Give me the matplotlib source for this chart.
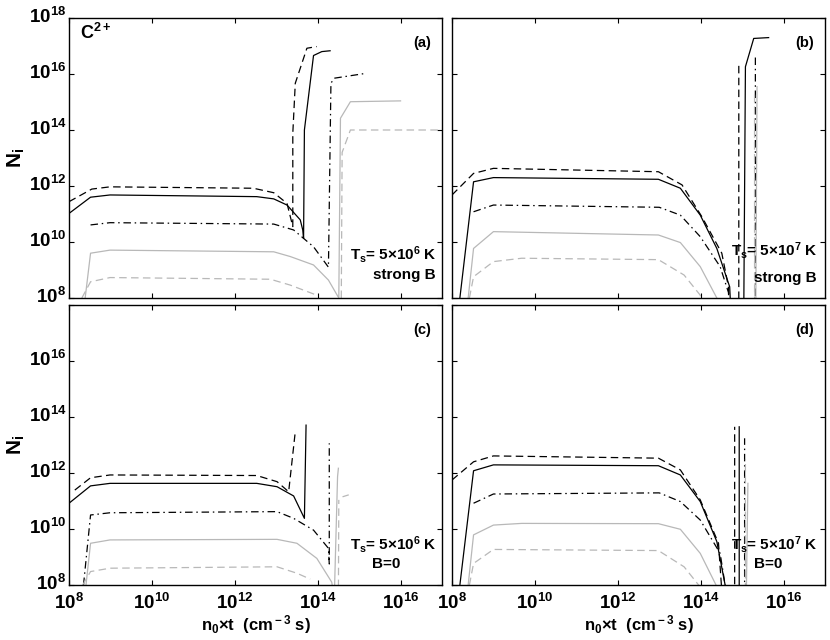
import numpy as np
import matplotlib
matplotlib.use("Agg")
import matplotlib.pyplot as plt
import matplotlib.transforms as mtransforms

plt.rcParams['font.family'] = ['Liberation Sans', 'DejaVu Sans']
plt.rcParams['font.weight'] = 'bold'
plt.rcParams['mathtext.fontset'] = 'custom'
plt.rcParams['mathtext.rm'] = 'Liberation Sans:bold'
plt.rcParams['mathtext.it'] = 'Liberation Sans:bold'
plt.rcParams['mathtext.bf'] = 'Liberation Sans:bold'

# all values are log10 exponents; nan breaks a line
# (a) Ts = 5e6 K, strong B
a_solid_x = [8, 8.52, 8.99, 12.53, 12.94, 13.26, 13.58, 13.64, 13.66, 13.68, 13.90, 14.10, 14.30]
a_solid_y = [11.02, 11.6, 11.68, 11.62, 11.54, 11.32, 10.79, 10.43, 10.13, 14.0, 16.66, 16.80, 16.83]
a_dash_x = [8, 8.55, 8.99, 12.45, 12.94, 13.26, 13.40, 13.40, 13.46, 13.74, 13.98]
a_dash_y = [11.44, 11.89, 11.97, 11.92, 11.76, 11.38, 10.55, 13.88, 15.67, 16.92, 16.98]
a_dd_x = [8.52, 8.99, 12.94, 13.42, 13.90, 14.26, 14.32, 14.40, 15.15]
a_dd_y = [10.61, 10.69, 10.64, 10.43, 9.83, 9.10, 15.67, 15.85, 16.02]
a_gsolid_x = [8.39, 8.52, 8.99, 12.94, 13.34, 13.90, 14.26, 14.51, 14.55, 14.79, 16.0]
a_gsolid_y = [8.0, 9.6, 9.71, 9.65, 9.48, 9.18, 8.64, 8.0, 14.42, 15.01, 15.04]
a_gdash_x = [8.31, 8.52, 8.99, 12.86, 13.34, 13.98, np.nan, 14.57, 14.59, 14.79, 17.0]
a_gdash_y = [8.0, 8.58, 8.73, 8.67, 8.46, 8.1, np.nan, 8.0, 13.2, 14.0, 14.0]

# (b) Ts = 5e7 K, strong B
b_solid_x = [8.19, 8.52, 9.0, 12.98, 13.51, 13.99, 14.39, 14.70, 14.73, 15.04, 15.08, 15.28, 15.64]
b_solid_y = [8.0, 12.15, 12.30, 12.24, 11.92, 10.96, 9.77, 8.4, 7.5, 7.5, 16.26, 17.27, 17.3]
b_dash_x = [8.0, 8.52, 9.0, 12.98, 13.55, 14.03, 14.51, 14.67, 14.70, 14.92, 14.92]
b_dash_y = [11.68, 12.45, 12.63, 12.51, 12.04, 10.9, 9.6, 8.4, 7.5, 7.5, 16.38]
b_dd_x = [8.52, 9.0, 13.0, 13.51, 13.99, 14.47, 14.67, 14.70, 15.32, 15.32]
b_dd_y = [11.08, 11.32, 11.24, 10.96, 10.19, 9.12, 8.2, 7.5, 7.5, 16.68]
b_gsolid_x = [8.39, 8.52, 9.0, 12.98, 13.51, 13.99, 14.39, 14.45, 15.33, 15.36]
b_gsolid_y = [8.0, 9.77, 10.37, 10.25, 9.98, 9.12, 8.0, 7.5, 7.5, 15.55]
b_gdash_x = [8.42, 8.52, 9.0, 9.68, 12.98, 13.6, 13.99, 14.05, 15.30, 15.30]
b_gdash_y = [8.0, 8.76, 9.3, 9.42, 9.37, 8.82, 8.1, 7.5, 7.5, 15.3]

# (c) Ts = 5e6 K, B=0
c_solid_x = [8, 8.52, 8.99, 12.53, 13.02, 13.42, 13.68, 13.72]
c_solid_y = [10.92, 11.54, 11.63, 11.63, 11.51, 11.18, 10.38, 13.71]
c_dash_x = [8.14, 8.52, 8.99, 12.53, 13.02, 13.30, 13.46]
c_dash_y = [11.39, 11.83, 11.93, 11.91, 11.69, 11.33, 13.48]
c_dd_x = [8.35, 8.52, 8.99, 13.02, 13.42, 13.90, 14.26, 14.28, 14.28]
c_dd_y = [8.0, 10.5, 10.58, 10.62, 10.38, 9.96, 9.31, 8.75, 13.06]
c_gsolid_x = [8.41, 8.52, 8.99, 13.02, 13.50, 13.98, 14.34, 14.40, 14.48, 14.50]
c_gsolid_y = [8.0, 9.49, 9.61, 9.63, 9.49, 8.95, 8.1, 7.5, 11.87, 12.17]
c_gdash_x = [8.33, 8.52, 8.99, 13.02, 13.5, 13.82, np.nan, 14.5, 14.51, np.nan, 14.6, 14.75]
c_gdash_y = [8.0, 8.48, 8.6, 8.65, 8.42, 8.21, np.nan, 7.5, 11.04, np.nan, 11.15, 11.22]

# (d) Ts = 5e7 K, B=0
d_solid_x = [8.19, 8.52, 9.0, 12.98, 13.51, 13.99, 14.39, 14.59, 14.62, 14.93, 14.93]
d_solid_y = [8.0, 12.08, 12.29, 12.26, 11.93, 10.98, 9.55, 8.0, 7.5, 7.5, 13.65]
d_dash_x = [8.0, 8.52, 9.0, 12.98, 13.51, 13.99, 14.43, 14.5, 14.55, 14.82, 14.82]
d_dash_y = [11.75, 12.4, 12.61, 12.53, 12.11, 11.04, 9.49, 8.0, 7.5, 7.5, 13.65]
d_dd_x = [8.52, 9.0, 13.0, 13.51, 13.99, 14.47, 14.59, 14.62, 15.06, 15.06]
d_dd_y = [10.92, 11.25, 11.29, 10.98, 10.32, 9.13, 8.0, 7.5, 7.5, 13.24]
d_gsolid_x = [8.39, 8.52, 9.0, 9.68, 12.98, 13.51, 13.99, 14.37, 14.42, 15.10, 15.14]
d_gsolid_y = [8.0, 9.79, 10.14, 10.2, 10.19, 9.99, 9.13, 8.0, 7.5, 7.5, 11.63]
d_gdash_x = [8.42, 8.52, 9.0, 12.98, 13.6, 13.95, 14.0, 15.08, 15.08]
d_gdash_y = [8.0, 8.77, 9.27, 9.23, 8.65, 8.0, 7.5, 7.5, 12.5]

panel_tags = ['(a)', '(b)', '(c)', '(d)']
temp_labels = [r'T$_{\rm s}$= 5$\times$10$^{6}$ K', r'T$_{\rm s}$= 5$\times$10$^{7}$ K',
               r'T$_{\rm s}$= 5$\times$10$^{6}$ K', r'T$_{\rm s}$= 5$\times$10$^{7}$ K']
field_labels = ['strong B', 'strong B', 'B=0', 'B=0']
x_exps = [8, 10, 12, 14, 16]
y_exps = [8, 10, 12, 14, 16, 18]

GRAY = '#b8b8b8'
DASH = (0, (6, 3.5))
DASHDOT = (0, (6, 3, 1.2, 3))

panels = [
    [(a_solid_x, a_solid_y, 'k', '-'), (a_dash_x, a_dash_y, 'k', DASH), (a_dd_x, a_dd_y, 'k', DASHDOT),
     (a_gsolid_x, a_gsolid_y, GRAY, '-'), (a_gdash_x, a_gdash_y, GRAY, DASH)],
    [(b_solid_x, b_solid_y, 'k', '-'), (b_dash_x, b_dash_y, 'k', DASH), (b_dd_x, b_dd_y, 'k', DASHDOT),
     (b_gsolid_x, b_gsolid_y, GRAY, '-'), (b_gdash_x, b_gdash_y, GRAY, DASH)],
    [(c_solid_x, c_solid_y, 'k', '-'), (c_dash_x, c_dash_y, 'k', DASH), (c_dd_x, c_dd_y, 'k', DASHDOT),
     (c_gsolid_x, c_gsolid_y, GRAY, '-'), (c_gdash_x, c_gdash_y, GRAY, DASH)],
    [(d_solid_x, d_solid_y, 'k', '-'), (d_dash_x, d_dash_y, 'k', DASH), (d_dd_x, d_dd_y, 'k', DASHDOT),
     (d_gsolid_x, d_gsolid_y, GRAY, '-'), (d_gdash_x, d_gdash_y, GRAY, DASH)],
]

W, H = 830, 640
fig = plt.figure(figsize=(W / 100, H / 100), dpi=100)
# axes boxes in pixels: left, top, right, bottom
boxes = [(69, 18, 442, 298), (452, 18, 825, 298), (69, 305, 442, 585), (452, 305, 825, 585)]
text_pos = [((0.986, 0.155), (0.815, 0.083)), ((0.981, 0.17), (0.81, 0.07)),
            ((0.986, 0.145), (0.812, 0.075)), ((0.981, 0.145), (0.81, 0.075))]
# digits of the y tick labels sit on the tick, exponent above
lift = mtransforms.ScaledTranslation(0, 3 / 100, fig.dpi_scale_trans)

for i, (l, t, r, b) in enumerate(boxes):
    ax = fig.add_axes([l / W, 1 - b / H, (r - l) / W, (b - t) / H])
    for xs, ys, col, ls in panels[i]:
        ax.plot(10 ** np.array(xs), 10 ** np.array(ys), color=col, linestyle=ls, lw=0.9)
    ax.set_xscale('log')
    ax.set_yscale('log')
    ax.set_xlim(1e8, 1e17)
    ax.set_ylim(1e8, 1e18)
    ax.minorticks_off()
    ax.set_xticks([10.0 ** e for e in x_exps])
    ax.set_yticks([10.0 ** e for e in y_exps])
    ax.tick_params(which='both', direction='in', top=True, right=True, length=3.5, width=0.8,
                   labelsize=13.5, pad=2)
    ax.tick_params(axis='x', pad=6)
    if i >= 2:
        ax.set_xticklabels([r'$\mathbf{10^{%d}}$' % e for e in x_exps])
        ax.set_xlabel(r'n$_{\rm 0}$$\times$t  (cm$^{\rm -3}$ s)', fontsize=12, fontweight='bold', labelpad=0)
    else:
        ax.set_xticklabels([])
    if i == 0:
        ax.set_yticklabels([r'$\mathbf{10^{%d}}$' % e for e in y_exps])
    elif i == 2:
        ax.set_yticklabels([r'$\mathbf{10^{%d}}$' % e for e in y_exps[:-1]] + [''])
    else:
        ax.set_yticklabels([])
    for lab in ax.get_yticklabels():
        lab.set_transform(lab.get_transform() + lift)
    if i % 2 == 0:
        ax.set_ylabel(r'N$_{\rm i}$', fontsize=15, fontweight='bold', labelpad=1)
    for s in ax.spines.values():
        s.set_linewidth(1.0)
    ax.text(0.97, 0.91, panel_tags[i], transform=ax.transAxes, ha='right', va='center',
            fontsize=10.5, fontweight='bold')
    (tx, ty), (fx, fy) = text_pos[i]
    ax.text(tx, ty, temp_labels[i], transform=ax.transAxes, ha='right', va='center',
            fontsize=11, fontweight='bold')
    ax.text(fx, fy, field_labels[i], transform=ax.transAxes, ha='left', va='center',
            fontsize=11, fontweight='bold')
    if i == 0:
        ax.text(0.03, 0.945, r'C$^{\rm 2+}$', transform=ax.transAxes, ha='left', va='center',
                fontsize=13, fontweight='bold')

fig.savefig('out.png', dpi=100)
